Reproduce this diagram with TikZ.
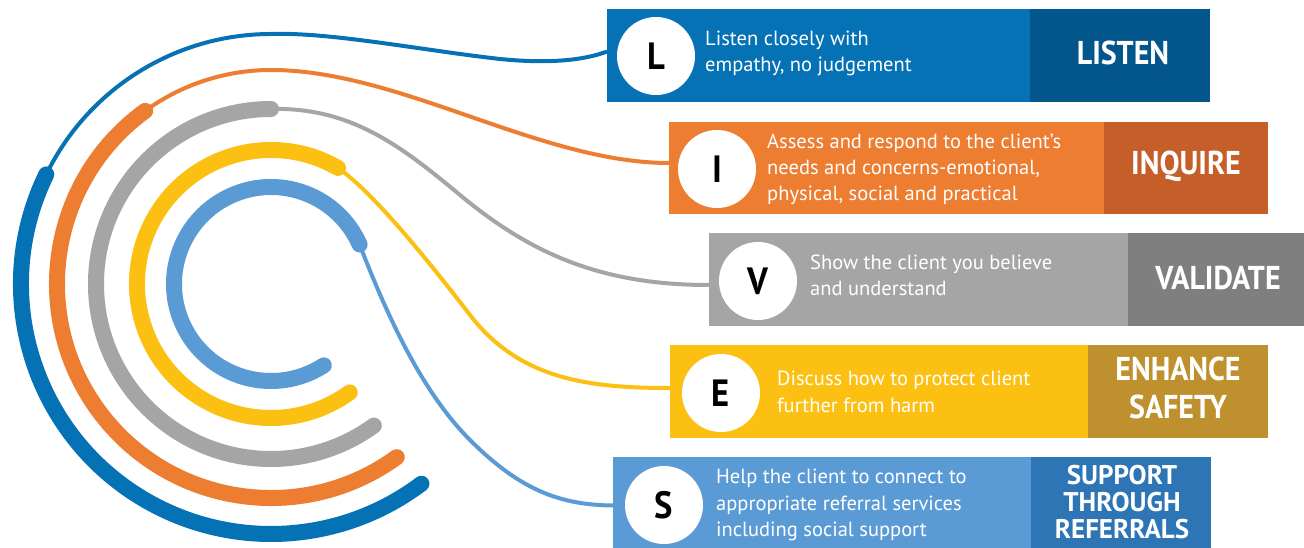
\documentclass[tikz,border=0pt]{standalone}
\usepackage{fontspec}
\setmainfont{PT Sans}
\newfontfamily\condfont{PT Sans}[FakeStretch=0.91]
\usetikzlibrary{calc}
\definecolor{cL}{HTML}{0572B6}
\definecolor{cLd}{HTML}{02568C}
\definecolor{cI}{HTML}{ED7D31}
\definecolor{cId}{HTML}{C55E29}
\definecolor{cV}{HTML}{A5A5A5}
\definecolor{cVd}{HTML}{7F7F7F}
\definecolor{cE}{HTML}{FCC012}
\definecolor{cEd}{HTML}{BF912E}
\definecolor{cS}{HTML}{5B9BD5}
\definecolor{cSd}{HTML}{2E75B6}
\begin{document}
\begin{tikzpicture}[x=1pt,y=-1pt,
  band/.style={draw=none, inner sep=0, outer sep=0, anchor=north west},
  ltr/.style={circle, fill=white, minimum size=78pt, inner sep=0, text=black, font=\fontsize{38}{38}\condfont\bfseries},
  desc/.style={anchor=west, align=left, text=white, inner sep=0, font=\fontsize{20.5}{26.3}\selectfont},
  lab/.style={align=center, text=white, inner sep=0, font=\fontsize{33}{38}\condfont\bfseries},
  labs/.style={align=center, text=white, inner sep=0, font=\fontsize{27}{26.7}\selectfont\bfseries},
  wire/.style={line width=4pt},
  arcband/.style={line width=16pt, line cap=round},
]
\useasboundingbox (0,0) rectangle (1304,548);
\fill[white] (0,0) rectangle (1304,548);

% centre of the arcs
\coordinate (c) at (271,284);

% ---------- boxes ----------
\node[band, fill=cL, minimum width=603pt, minimum height=93pt] (Lbox) at (607,9) {};
\node[band, fill=cLd, minimum width=180pt, minimum height=93pt] (Ldark) at (1030,9) {};
\node[band, fill=cI, minimum width=599pt, minimum height=92pt] (Ibox) at (669,122) {};
\node[band, fill=cId, minimum width=164pt, minimum height=92pt] (Idark) at (1104,122) {};
\node[band, fill=cV, minimum width=595pt, minimum height=93pt] (Vbox) at (709,233) {};
\node[band, fill=cVd, minimum width=176pt, minimum height=93pt] (Vdark) at (1128,233) {};
\node[band, fill=cE, minimum width=598pt, minimum height=93pt] (Ebox) at (670,345) {};
\node[band, fill=cEd, minimum width=180pt, minimum height=93pt] (Edark) at (1088,345) {};
\node[band, fill=cS, minimum width=598pt, minimum height=92pt] (Sbox) at (613,457) {};
\node[band, fill=cSd, minimum width=180pt, minimum height=92pt] (Sdark) at (1031,457) {};

% ---------- letter circles ----------
\node[ltr] (Lc) at (656,56) {L};
\node[ltr] (Ic) at (717,169) {I};
\node[ltr] (Vc) at (758,281) {V};
\node[ltr] (Ec) at (721,393) {E};
\node[ltr] (Sc) at (664,505) {S};

% ---------- descriptions ----------
\node[desc] (Lt) at (705,53.6) {Listen closely with\\empathy, no judgement};
\node[desc] (It) at (767,169.4) {Assess and respond to the client’s\\needs and concerns-emotional,\\physical, social and practical};
\node[desc] (Vt) at (810,275) {Show the client you believe\\and understand};
\node[desc] (Et) at (777,392) {Discuss how to protect client\\further from harm};
\node[desc] (St) at (716,505) {Help the client to connect to\\appropriate referral services\\including social support};

% ---------- labels ----------
\node[lab] (Ll) at (1123,52.5) {LISTEN};
\node[lab] (Il) at (1186,166) {INQUIRE};
\node[lab] (Vl) at (1218,278) {VALIDATE};
\node[lab] (El) at (1178,388) {ENHANCE\\SAFETY};
\node[labs] (Sl) at (1122,502) {SUPPORT\\THROUGH\\REFERRALS};

% ---------- connector start points on the arcs ----------
\coordinate (Lstart) at (271,34);
\coordinate (Istart) at (271,70);
\coordinate (Vstart) at (271,109);
\coordinate (Estart) at ($(c)+(60:134pt)$);
\coordinate (Sstart) at ($(c)+(24:97pt)$);

% ---------- thin connectors ----------
\draw[wire, cL] ($(c)+(154:250pt)$) arc[start angle=154, end angle=90, radius=250pt];
\draw[wire, cL] (Lstart) .. controls (330,32) and (420,50) .. (500,59)
   .. controls (550,64) and (585,60) .. ([yshift=4pt]Lbox.west);

\draw[wire, cI] ($(c)+(126:214pt)$) arc[start angle=126, end angle=90, radius=214pt];
\draw[wire, cI] (Istart) .. controls (400,70) and (540,163) .. ([yshift=5pt]Ibox.west);

\draw[wire, cV] (Vstart) .. controls (350,107) and (400,145) .. (460,195)
   .. controls (530,253) and (600,285) .. ([yshift=-5.5pt]Vbox.west);

\draw[wire, cE] (Estart) .. controls (370,190) and (420,250) .. (470,315)
   .. controls (520,380) and (590,388) .. ([yshift=3.5pt]Ebox.west);

\draw[wire, cS] (Sstart) .. controls (385,310) and (420,390) .. (470,440)
   .. controls (520,490) and (560,505) .. ([yshift=-2.5pt]Sbox.west);

% ---------- thick arcs ----------
\draw[arcband, cL] ($(c)+(154:250pt)$) arc[start angle=154, end angle=307, radius=250pt];
\draw[arcband, cI] ($(c)+(126:214pt)$) arc[start angle=126, end angle=306, radius=214pt];
\draw[arcband, cV] ($(c)+(90:175pt)$) arc[start angle=90, end angle=306, radius=175pt];
\draw[arcband, cE] ($(c)+(60:134pt)$) arc[start angle=60, end angle=306, radius=134pt];
\draw[arcband, cS] ($(c)+(24:97pt)$) arc[start angle=24, end angle=303, radius=97pt];
\end{tikzpicture}
\end{document}
